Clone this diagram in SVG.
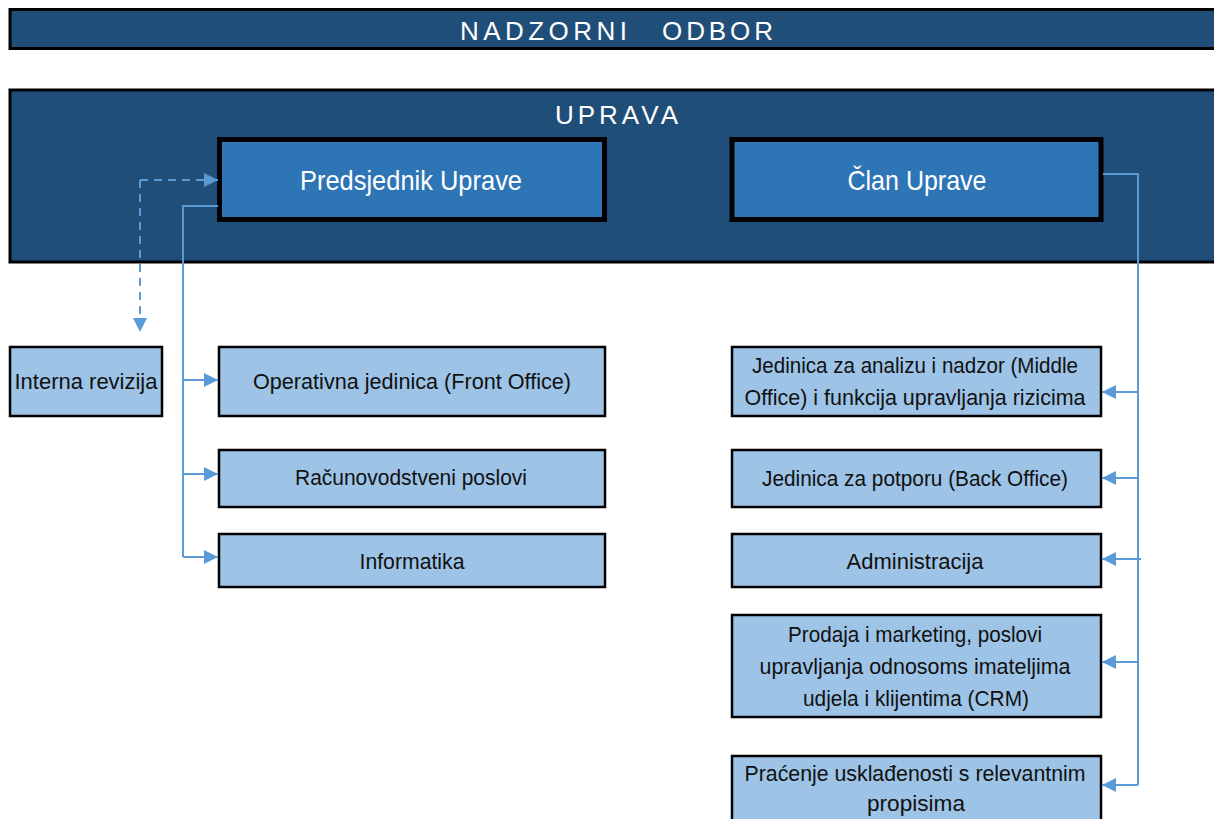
<svg xmlns="http://www.w3.org/2000/svg" width="1214" height="819" viewBox="0 0 1214 819">
<style>
.band{fill:#1F4E79;stroke:#000;stroke-width:3}
.head{fill:#2E75B6;stroke:#000;stroke-width:5}
.unit{fill:#9DC3E6;stroke:#000;stroke-width:2.5}
.bt{font-family:"Liberation Sans",Arial,sans-serif;fill:#fff;font-size:26px}
.ht{font-family:"Liberation Sans",Arial,sans-serif;fill:#fff;font-size:28px;text-anchor:middle}
.ut{font-family:"Liberation Sans",Arial,sans-serif;fill:#111;font-size:22px;text-anchor:middle}
.ln{fill:none;stroke:#5B9BD5;stroke-width:2}
.dash{fill:none;stroke:#5B9BD5;stroke-width:2;stroke-dasharray:8,6}
</style>
<defs>
<marker id="ah" viewBox="0 0 10 10" refX="10" refY="5" markerWidth="14" markerHeight="14" markerUnits="userSpaceOnUse" orient="auto">
<path d="M0,0 L10,5 L0,10 z" fill="#5B9BD5"/>
</marker>
</defs>
<rect width="1214" height="819" fill="#fff"/>

<g id="nadzorni-odbor">
<rect class="band" x="10" y="9.5" width="1210" height="39"/>
<text class="bt" x="460" y="40" textLength="167" lengthAdjust="spacing">NADZORNI</text>
<text class="bt" x="662" y="40" textLength="111" lengthAdjust="spacing">ODBOR</text>
</g>

<g id="uprava">
<rect class="band" x="10" y="90" width="1210" height="172"/>
<text class="bt" x="555" y="124" textLength="123" lengthAdjust="spacing">UPRAVA</text>
</g>

<g id="predsjednik">
<rect class="head" x="219.5" y="139.5" width="385" height="80"/>
<text class="ht" x="411" y="190" textLength="222" lengthAdjust="spacingAndGlyphs">Predsjednik Uprave</text>
</g>

<g id="clan">
<rect class="head" x="732" y="139.5" width="369" height="80"/>
<text class="ht" x="917" y="190" textLength="139" lengthAdjust="spacingAndGlyphs">Član Uprave</text>
</g>

<g id="interna-revizija">
<rect class="unit" x="10" y="347" width="152" height="69"/>
<text class="ut" x="86" y="389" textLength="143" lengthAdjust="spacingAndGlyphs">Interna revizija</text>
</g>

<g id="operativna">
<rect class="unit" x="219" y="347" width="386" height="69"/>
<text class="ut" x="412" y="389" textLength="318" lengthAdjust="spacingAndGlyphs">Operativna jedinica (Front Office)</text>
</g>

<g id="racunovodstveni">
<rect class="unit" x="219" y="450" width="386" height="57"/>
<text class="ut" x="411" y="485" textLength="232" lengthAdjust="spacingAndGlyphs">Računovodstveni poslovi</text>
</g>

<g id="informatika">
<rect class="unit" x="219" y="534" width="386" height="53"/>
<text class="ut" x="412" y="569" textLength="105" lengthAdjust="spacingAndGlyphs">Informatika</text>
</g>

<g id="middle-office">
<rect class="unit" x="732" y="347" width="369" height="69"/>
<text class="ut" x="915" y="373" textLength="326" lengthAdjust="spacingAndGlyphs">Jedinica za analizu i nadzor (Middle</text>
<text class="ut" x="915" y="405" textLength="341" lengthAdjust="spacingAndGlyphs">Office) i funkcija upravljanja rizicima</text>
</g>

<g id="back-office">
<rect class="unit" x="732" y="450" width="369" height="57"/>
<text class="ut" x="915" y="486" textLength="306" lengthAdjust="spacingAndGlyphs">Jedinica za potporu (Back Office)</text>
</g>

<g id="administracija">
<rect class="unit" x="732" y="534" width="369" height="53"/>
<text class="ut" x="915" y="569" textLength="137" lengthAdjust="spacingAndGlyphs">Administracija</text>
</g>

<g id="prodaja">
<rect class="unit" x="732" y="615" width="369" height="102"/>
<text class="ut" x="915" y="642" textLength="254" lengthAdjust="spacingAndGlyphs">Prodaja i marketing, poslovi</text>
<text class="ut" x="915" y="674" textLength="311" lengthAdjust="spacingAndGlyphs">upravljanja odnosoms imateljima</text>
<text class="ut" x="916" y="706" textLength="226" lengthAdjust="spacingAndGlyphs">udjela i klijentima (CRM)</text>
</g>

<g id="pracenje">
<rect class="unit" x="732" y="756" width="369" height="70"/>
<text class="ut" x="915" y="781" textLength="341" lengthAdjust="spacingAndGlyphs">Praćenje usklađenosti s relevantnim</text>
<text class="ut" x="916" y="811" textLength="98" lengthAdjust="spacingAndGlyphs">propisima</text>
</g>

<g id="connectors">
<path class="dash" d="M140,180 L140,332" marker-end="url(#ah)"/>
<path class="dash" d="M140,180 L218,180" marker-end="url(#ah)"/>
<path class="ln" d="M218,206 L183,206 L183,557"/>
<path class="ln" d="M183,380 L218,380" marker-end="url(#ah)"/>
<path class="ln" d="M183,474 L218,474" marker-end="url(#ah)"/>
<path class="ln" d="M183,557 L218,557" marker-end="url(#ah)"/>
<path class="ln" d="M1103,174 L1138,174 L1138,785"/>
<path class="ln" d="M1138,392 L1102,392" marker-end="url(#ah)"/>
<path class="ln" d="M1138,478 L1102,478" marker-end="url(#ah)"/>
<path class="ln" d="M1141,559 L1102,559" marker-end="url(#ah)"/>
<path class="ln" d="M1138,662 L1102,662" marker-end="url(#ah)"/>
<path class="ln" d="M1138,785 L1102,785" marker-end="url(#ah)"/>
</g>
</svg>
